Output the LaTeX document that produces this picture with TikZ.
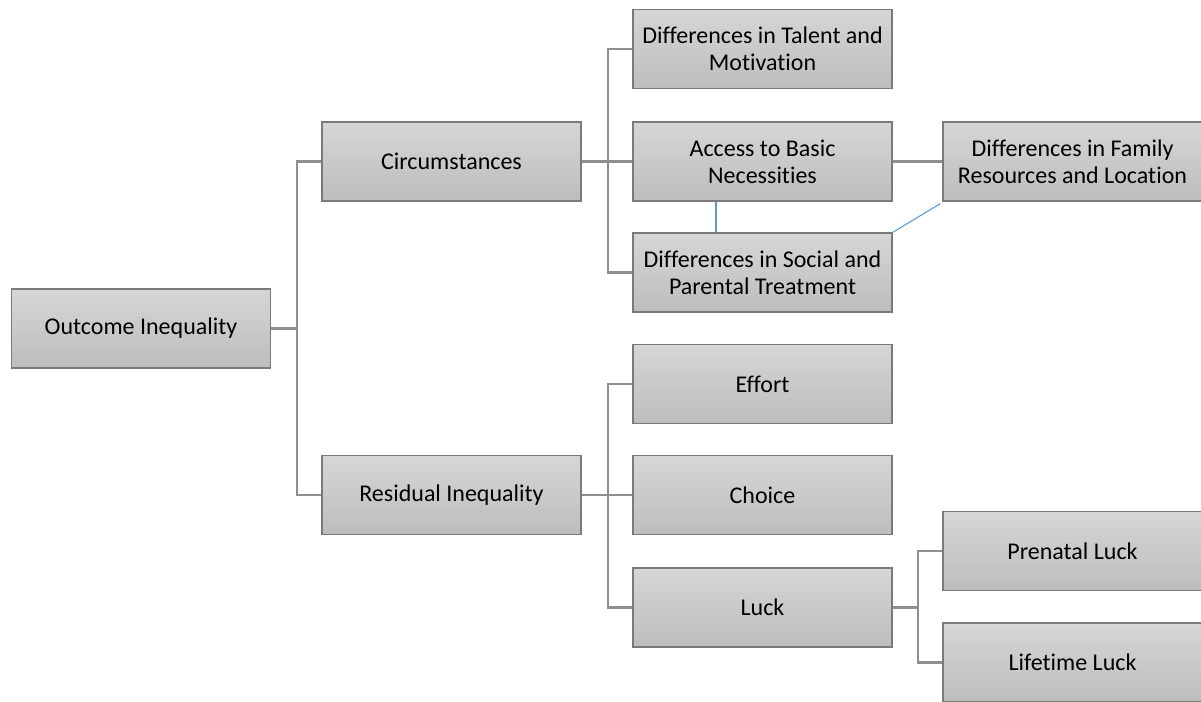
\documentclass[tikz,border=0pt]{standalone}
\usepackage{fontspec}
\setmainfont{Carlito}[Ligatures=NoCommon]
\definecolor{boxtop}{HTML}{D6D6D6}
\definecolor{boxbot}{HTML}{BDBDBD}
\definecolor{boxline}{HTML}{7A7A7A}
\definecolor{conn}{HTML}{8F8F8F}
\definecolor{linkblue}{HTML}{5B9BD5}
\begin{document}
\begin{tikzpicture}[x=0.75pt,y=-0.75pt,
  box/.style={rectangle, draw=boxline, line width=0.9pt, top color=boxtop, bottom color=boxbot,
    minimum width=194.25pt, minimum height=59.25pt, inner sep=0pt, align=center,
    font=\fontsize{18}{20.5}\selectfont},
  conline/.style={draw=conn, line width=1.6pt},
  bluelink/.style={draw=linkblue, line width=0.8pt}]
\clip (0,0) rectangle (1201,701);
\fill[white] (0,0) rectangle (1201,701);
% nodes
\node[box] (out) at (141,328.5) {Outcome Inequality};
\node[box] (circ) at (451.5,161.5) {Circumstances};
\node[box] (resid) at (451.5,495) {Residual Inequality};
\node[box] (talent) at (762.5,49) {Differences in Talent and\\Motivation};
\node[box] (access) at (762.5,161.5) {Access to Basic\\Necessities};
\node[box] (social) at (762.5,272.5) {Differences in Social and\\Parental Treatment};
\node[box] (effort) at (762.5,384) {Effort};
\node[box] (choice) at (762.5,495) {Choice};
\node[box] (luck) at (762.5,607.5) {Luck};
\node[box] (family) at (1072.5,161.5) {Differences in Family\\Resources and Location};
\node[box] (prenatal) at (1072.5,551) {Prenatal Luck};
\node[box] (lifetime) at (1072.5,662.5) {Lifetime Luck};
% connectors
\draw[conline] (out.east) -- ++(26,0) |- (circ.west);
\draw[conline] (out.east) -- ++(26,0) |- (resid.west);
\draw[conline] (circ.east) -- ++(26,0) |- (talent.west);
\draw[conline] (circ.east) -- ++(26,0) |- (access.west);
\draw[conline] (circ.east) -- ++(26,0) |- (social.west);
\draw[conline] (access.east) -- (family.west);
\draw[conline] (resid.east) -- ++(26,0) |- (effort.west);
\draw[conline] (resid.east) -- ++(26,0) |- (choice.west);
\draw[conline] (resid.east) -- ++(26,0) |- (luck.west);
\draw[conline] (luck.east) -- ++(25,0) |- (prenatal.west);
\draw[conline] (luck.east) -- ++(25,0) |- (lifetime.west);
\draw[bluelink] (access.south -| 716,0) -- (social.north -| 716,0);
\draw[bluelink] (social.north east) -- ([xshift=-1.5pt,yshift=-1.5pt]family.south west);
\end{tikzpicture}
\end{document}
